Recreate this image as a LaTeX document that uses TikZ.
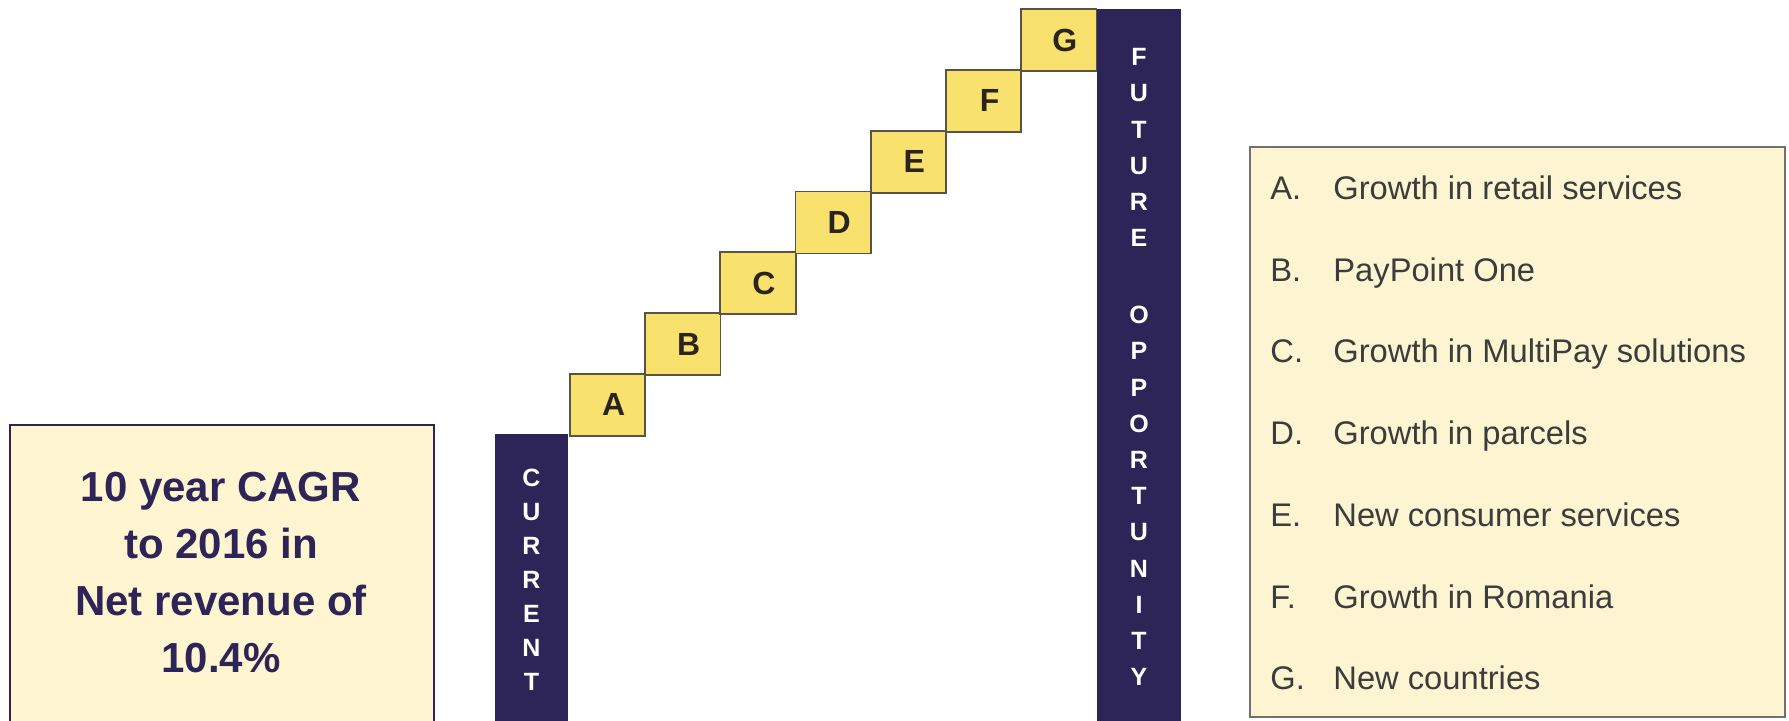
\documentclass[tikz,border=0pt]{standalone}
\usepackage{fontspec}
\setmainfont{Liberation Sans}
\definecolor{navy}{HTML}{2D2457}
\definecolor{stepyellow}{HTML}{F8E16C}
\definecolor{cream}{HTML}{FFF5D0}
\definecolor{legendcream}{HTML}{FDF5D2}
\definecolor{stepedge}{HTML}{5B5343}
\definecolor{legendedge}{HTML}{707070}
\definecolor{legendtext}{HTML}{3C3C3C}
\definecolor{lettercol}{HTML}{2A2420}
\tikzset{
  stepbox/.style={draw=stepedge, line width=0.9pt, fill=stepyellow, anchor=north west,
    minimum width=37.65pt, minimum height=31pt, inner sep=0pt,
    font=\fontsize{16}{16}\selectfont\bfseries, text=lettercol},
  barbox/.style={fill=navy, draw=none, anchor=north west, inner sep=0pt},
  barletter/.style={text=white, font=\fontsize{12.5}{12.5}\selectfont\bfseries, inner sep=0pt},
  legendlabel/.style={anchor=base west, inner sep=0pt, text=legendtext,
    font=\fontsize{16.35}{16.35}\selectfont},
}
\begin{document}
\begin{tikzpicture}[x=0.5pt, y=-0.5pt]
\useasboundingbox (0,0) rectangle (1789,720);
\clip (0,0) rectangle (1789,720);

% left box
\node[draw=navy, line width=1pt, fill=cream, anchor=north west, inner sep=0pt,
  minimum width=212pt, minimum height=150pt] (cagrbox) at (9,424) {};
\node[align=center, text=navy, font=\fontsize{21}{28.5}\selectfont\bfseries, inner sep=0pt]
  (cagrtext) at (221,573) {10 year CAGR\\to 2016 in\\Net revenue of\\10.4\%};

% current bar
\node[barbox, minimum width=36.5pt, minimum height=146pt] (cur) at (495,434) {};
\foreach \l [count=\i from 0] in {C,U,R,R,E,N,T}
  \node[barletter] (cur\i) at (531.5,{478+34*\i}) {\l};

% future bar
\node[barbox, minimum width=42pt, minimum height=360pt] (fut) at (1097,9) {};
\foreach \l/\y [count=\i] in {F/57,U/93.2,T/129.4,U/165.6,R/201.8,E/238,
    O/315,P/351.2,P/387.4,O/423.6,R/459.8,T/496,U/532.2,N/568.4,I/604.6,T/640.8,Y/677}
  \node[barletter] (fut\i) at (1139,\y) {\l};

% steps
\foreach \l [count=\i from 0] in {A,B,C,D,E,F,G}
  \node[stepbox] (step\l) at ({569+75.2*\i},{373-60.8*\i}) {\hspace*{6pt}\l};

% legend
\node[draw=legendedge, line width=1pt, fill=legendcream, anchor=north west, inner sep=0pt,
  minimum width=267.5pt, minimum height=285pt] (legend) at (1249,146) {};
\foreach \l/\t [count=\i from 0] in {A/Growth in retail services,B/PayPoint One,
    C/Growth in MultiPay solutions,D/Growth in parcels,E/New consumer services,
    F/Growth in Romania,G/New countries}{
  \node[legendlabel] (lab\l) at (1270,{199.5+81.7*\i}) {\l.};
  \node[legendlabel] (item\l) at (1333,{199.5+81.7*\i}) {\t};
}
\end{tikzpicture}
\end{document}
